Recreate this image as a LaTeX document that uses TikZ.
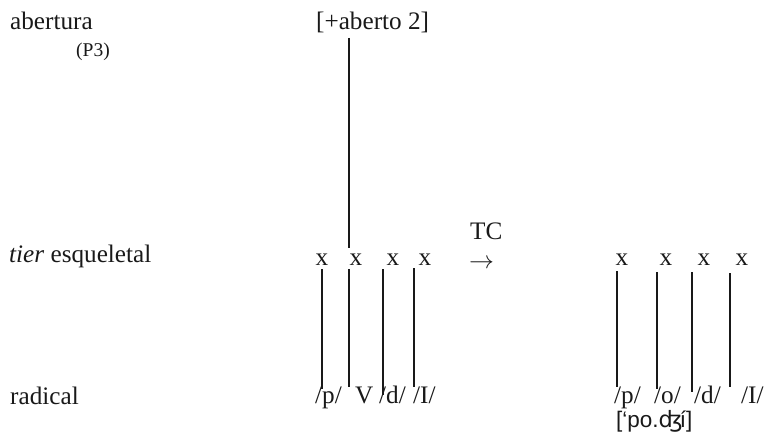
\documentclass[tikz,border=0pt]{standalone}
\usepackage{fontspec}
\setmainfont{Liberation Serif}
\newfontfamily\ipafont{Liberation Sans}
\newfontfamily\ipaextra{DejaVu Sans}
\begin{document}
\begin{tikzpicture}[x=1pt,y=-1pt,
  txt/.style={inner sep=0pt, text=black!90, font=\fontsize{25.2}{29}\selectfont},
  smalltxt/.style={inner sep=0pt, text=black!90, font=\fontsize{19.5}{22}\selectfont},
  ipa/.style={inner sep=0pt, text=black!90, font=\ipafont\fontsize{22.5}{26}\selectfont},
  lnk/.style={line width=1.2pt, draw=black!90}]
\useasboundingbox (0,0) rectangle (764,436);
% row labels
\node[txt,anchor=base west] (abertura) at (10,30) {abertura};
\node[smalltxt,anchor=base west] (p3) at (76,57) {(P3)};
\node[txt,anchor=base west] (tier) at (9,262) {\textit{tier} esqueletal};
\node[txt,anchor=base west] (radical) at (10,404) {radical};
% top feature
\node[txt,anchor=base west] (aberto) at (316,30) {[+aberto 2]};
% skeletal x's, left
\node[txt,anchor=base] (x1) at (322,265) {x};
\node[txt,anchor=base] (x2) at (356,265) {x};
\node[txt,anchor=base] (x3) at (393,265) {x};
\node[txt,anchor=base] (x4) at (425,265) {x};
% skeletal x's, right
\node[txt,anchor=base] (x5) at (622,265) {x};
\node[txt,anchor=base] (x6) at (666,265) {x};
\node[txt,anchor=base] (x7) at (704,265) {x};
\node[txt,anchor=base] (x8) at (742,265) {x};
% TC arrow
\node[txt,anchor=base west] (tc) at (470,239) {TC};
\node[txt,anchor=base west] (arrow) at (469,268) {$\rightarrow$};
% radical labels, left
\node[txt,anchor=base west] (s1) at (315,403) {/p/};
\node[txt,anchor=base west] (s2) at (355,403) {V};
\node[txt,anchor=base west] (s3) at (379,403) {/d/};
\node[txt,anchor=base west] (s4) at (413,403) {/I/};
% radical labels, right
\node[txt,anchor=base west] (r1) at (614,403) {/p/};
\node[txt,anchor=base west] (r2) at (654,403) {/o/};
\node[txt,anchor=base west] (r3) at (694,403) {/d/};
\node[txt,anchor=base west] (r4) at (741,403) {/I/};
% transcription
\node[ipa,anchor=base west] (trans) at (616,427) {[‘po.{\ipaextra ʤ}\kern-0.12em í]};
% association lines
\draw[lnk] ([shift={(33,8)}]aberto.base west) -- ([shift={(-7,-17)}]x2.base);
\draw[lnk] ([shift={(0,4)}]x1.base) -- ([shift={(7,-14)}]s1.base west);
\draw[lnk] ([shift={(-7,4)}]x2.base) -- ([shift={(-6,-16)}]s2.base west);
\draw[lnk] ([shift={(-10,4)}]x3.base) -- ([shift={(4,-8)}]s3.base west);
\draw[lnk] ([shift={(-11,3)}]x4.base) -- ([shift={(1,-16)}]s4.base west);
\draw[lnk] ([shift={(-5,6)}]x5.base) -- ([shift={(3,-16)}]r1.base west);
\draw[lnk] ([shift={(-9,7)}]x6.base) -- ([shift={(3,-14)}]r2.base west);
\draw[lnk] ([shift={(-12,7)}]x7.base) -- ([shift={(-2,-11)}]r3.base west);
\draw[lnk] ([shift={(-12,8)}]x8.base) -- ([shift={(-11,-16)}]r4.base west);
\end{tikzpicture}
\end{document}
